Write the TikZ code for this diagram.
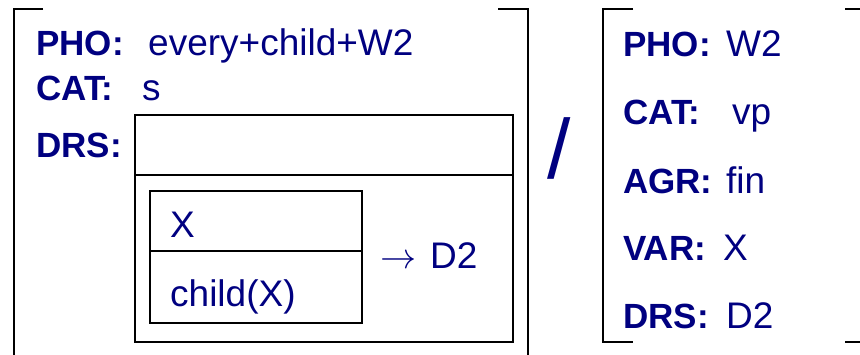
\documentclass[tikz,border=0pt]{standalone}
\usepackage{fontspec}
\setmainfont{Liberation Sans}
\definecolor{avmblue}{RGB}{0,0,128}
\begin{document}
\begin{tikzpicture}[x=1pt,y=-1pt,
  rule/.style={line width=2pt, draw=black},
  lbl/.style={anchor=base west, inner sep=0pt, text=avmblue, font=\fontsize{35}{42}\selectfont\bfseries},
  val/.style={anchor=base west, inner sep=0pt, text=avmblue, font=\fontsize{37}{44}\selectfont}]
\useasboundingbox (0,0) rectangle (860,354);
\clip (0,0) rectangle (860,354);

% left AVM brackets
\draw[rule] (43,9) -- (14,9) -- (14,370);
\draw[rule] (498,9) -- (528,9) -- (528,370);

% left AVM features
\node[lbl] (pho1) at (36,55) {PHO:};
\node[val] (pho1v) at (148,55) {every+child+W2};
\node[lbl] (cat1) at (36,100) {CAT:};
\node[val] (cat1v) at (142,100) {s};
\node[lbl] (drs1) at (36,157) {DRS:};

% outer DRS box
\draw[rule] (135,115) rectangle (513,342);
\draw[rule] (135,175) -- (513,175);

% inner DRS box
\draw[rule] (150,191) rectangle (362,323);
\draw[rule] (150,251) -- (362,251);
\node[val] (ref) at (170,237) {X};
\node[val] (cond) at (170,306) {child(X)};
\node[val] (arr) at (380,268) {\scalebox{1.45}{$\rightarrow$}};
\node[val] (res) at (430,268) {D2};

% separator
\node[anchor=base, inner sep=0pt, text=avmblue, font=\fontsize{84}{90}\selectfont] (slash) at (559,178) {/};

% right AVM brackets
\draw[rule] (633,9) -- (603,9) -- (603,342) -- (633,342);
\draw[rule] (845,9) -- (866,9) -- (866,342) -- (845,342);

% right AVM features
\node[lbl] (pho2) at (623,56) {PHO:};
\node[val] (pho2v) at (726,56) {W2};
\node[lbl] (cat2) at (623,124) {CAT:};
\node[val] (cat2v) at (732,124) {vp};
\node[lbl] (agr2) at (623,193) {AGR:};
\node[val] (agr2v) at (726,193) {fin};
\node[lbl] (var2) at (623,260) {VAR:};
\node[val] (var2v) at (723,260) {X};
\node[lbl] (drs2) at (623,328) {DRS:};
\node[val] (drs2v) at (726,328) {D2};
\end{tikzpicture}
\end{document}
